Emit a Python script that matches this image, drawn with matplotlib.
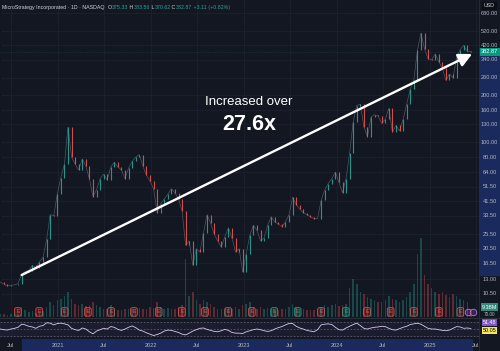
import matplotlib
matplotlib.use('Agg')
import matplotlib.pyplot as plt
import matplotlib.dates as mdates
import matplotlib.transforms as mtransforms
from matplotlib.ticker import NullLocator
import pandas as pd

plt.rcParams['font.family'] = ['Liberation Sans', 'DejaVu Sans']

BG = '#131722'
GRID = '#1f2330'
TXT = '#b2b5be'
UP = '#26a69a'
DOWN = '#ef5350'
SEL = '#1b2a5c'

# bi-weekly closes (split adjusted)
dates = pd.date_range('2020-05-20', periods=133, freq='14D')
closes = [12.5, 12.1, 11.8, 11.9, 12.0, 12.2, 14.0, 14.6, 14.8, 16.0,
          15.4, 16.9, 18.0, 23.5, 34.0, 33.5, 46, 59, 72, 125,
          80, 72, 66, 78, 70, 58, 44.5, 49, 58, 62,
          57, 69, 74, 69, 66, 58, 68, 75, 80, 83,
          70, 61, 56, 50, 35, 40, 43, 46, 50, 47,
          43, 36, 21.5, 23, 16, 20.5, 19.5, 26, 34, 30,
          25.5, 23, 21, 24.5, 28, 24, 19.5, 20.5, 14.5, 19,
          25, 29, 27, 23, 24, 29, 33, 30.5, 29.5, 28.5,
          30.5, 34, 44, 39.5, 37, 35, 34, 33, 32, 32,
          42, 49, 54, 58, 64, 55, 47, 58, 85, 135,
          172, 175, 125, 108, 145, 150, 147, 132, 140, 165,
          116, 128, 118, 140, 175, 220, 250, 390, 505, 400,
          345, 340, 370, 330, 300, 250, 275, 260, 350, 395,
          420, 385, 382.87]
volumes = [3, 3, 2.5, 3, 3, 4,
           12, 8, 6, 7, 5, 6, 7,
           12, 18, 14, 20, 22, 25, 30,
           22, 16, 14, 15, 13, 14, 18,
           14, 12, 10, 9, 14, 10, 8, 8, 9,
           10, 9, 10, 11, 9, 10, 12, 11,
           18, 12, 10, 11, 9, 10, 12, 14,
           70, 25, 30, 20, 15,
           20, 18, 15, 12, 10, 10, 9, 11, 10, 12, 10, 14,
           16, 18, 12, 10, 12, 10, 11, 10, 8, 8, 9, 10,
           12, 16, 12, 10, 9, 8, 8, 8, 10, 12, 14, 12, 14, 16, 13, 14, 15,
           35, 45, 40, 30,
           28, 24, 22, 20, 18, 18, 20, 25, 22, 20, 18, 20, 24, 30, 40,
           75, 95, 50,
           40, 35, 30, 28, 30, 26, 24, 28, 25, 22, 20, 18, 9.38]
rsi = [50, 48, 47, 50, 52, 55, 64, 62, 58, 56,
       52, 58, 60, 68, 67, 62, 66, 67, 65, 62,
       52, 48, 46, 53, 50, 42, 36, 44, 48, 52,
       50, 57, 55, 49, 46, 50, 55, 59, 54, 47,
       44, 39, 35, 31, 34, 38, 44, 47, 46, 43,
       40, 35, 33, 38, 44, 48, 52, 53, 49, 46,
       43, 42, 45, 49, 46, 40, 38, 38, 37, 42,
       45, 48, 50, 48, 45, 43, 45, 50, 54, 57,
       62, 66, 66, 58, 53, 50, 46, 44, 42, 48,
       62, 64, 65, 63, 55, 48, 47, 53, 58, 63,
       67, 60, 52, 50, 53, 55, 56, 58, 57, 52,
       48, 47, 51, 55, 58, 63, 65, 67, 64, 58,
       52, 50, 50, 48, 46, 45, 47, 52, 57, 56,
       52, 53, 51.48]
rsi_ma_last = 50.05

earn_dates = pd.to_datetime(['2020-07-28', '2020-10-20', '2021-01-28', '2021-04-29',
                             '2021-07-29', '2021-10-27', '2022-02-01', '2022-05-03',
                             '2022-08-02', '2022-11-01', '2023-02-02', '2023-05-01',
                             '2023-08-01', '2023-11-01', '2024-02-06', '2024-04-29',
                             '2024-07-31', '2024-10-30', '2025-02-05', '2025-05-01'])
earn_beat = [False] * 11 + [True, True, False, True] + [False] * 5
event_dates = pd.to_datetime(['2025-05-31', '2025-06-19'])

header_name = 'MicroStrategy Incorporated · 1D · NASDAQ'
ohlc = [('O', 375.33), ('H', 383.56), ('L', 370.62), ('C', 382.87)]
change, change_pct = 3.11, 0.82

price_ticks = [680, 520, 420, 340, 260, 200, 160, 130, 100, 80, 64,
               51.5, 41.5, 33.5, 25.5, 20.5, 16.5, 13, 10.5]
time_ticks = pd.to_datetime(['2020-07-01', '2021-01-01', '2021-07-01', '2022-01-01',
                             '2022-07-01', '2023-01-01', '2023-07-01', '2024-01-01',
                             '2024-07-01', '2025-01-01', '2025-07-01'])
time_labels = ['Jul', '2021', 'Jul', '2022', 'Jul', '2023', 'Jul', '2024', 'Jul', '2025', 'Jul']

arrow_start = (pd.Timestamp('2020-08-12'), 13.87)
arrow_end = (pd.Timestamp('2025-06-16'), 370)

opens = [closes[0]] + closes[:-1]
colors = [UP if c >= o else DOWN for o, c in zip(opens, closes)]

W, H = 500, 351


def box(x0, y0, x1, y1):
    return [x0 / W, 1 - y1 / H, (x1 - x0) / W, (y1 - y0) / H]


fig = plt.figure(figsize=(5, 3.51), dpi=100, facecolor=BG)
ax = fig.add_axes(box(0, 0, 479, 317))
axr = fig.add_axes(box(0, 318, 479, 339), sharex=ax)
axt = fig.add_axes(box(0, 339, 479, 351), sharex=ax)
pax = fig.add_axes(box(479, 0, 500, 317), sharey=ax)
rax = fig.add_axes(box(479, 318, 500, 339), sharey=axr)

for a in (ax, axr, axt, pax, rax):
    a.set_facecolor(BG)
    for s in a.spines.values():
        s.set_visible(False)
    a.tick_params(left=False, bottom=False, right=False, top=False,
                  labelleft=False, labelbottom=False)

# price pane
ax.set_yscale('log')
ax.set_ylim(7.43, 825)
ax.set_xlim(pd.Timestamp('2020-05-19'), pd.Timestamp('2025-07-13'))
ax.set_yticks(price_ticks)
ax.yaxis.set_minor_locator(NullLocator())
ax.set_xticks(time_ticks)
ax.grid(True, color=GRID, lw=0.5)
ax.set_axisbelow(True)
ax.tick_params(left=False, bottom=False, labelleft=False, labelbottom=False)

axv = ax.twinx()
axv.set_ylim(0, 380)
axv.axis('off')
axv.bar(dates, volumes, width=6, color=colors, alpha=0.35, zorder=1)

ax.plot(dates, closes, color='#9aa0ad', lw=0.5, alpha=0.45, zorder=2)
ax.vlines(dates, opens, closes, colors=colors, lw=0.8, alpha=0.9, zorder=3)
ax.axhline(closes[-1], color=UP, lw=0.4, ls=':', alpha=0.4)

ax.annotate('', xy=arrow_end, xytext=arrow_start,
            arrowprops=dict(arrowstyle='-|>,head_length=0.9,head_width=0.45',
                            color='white', lw=1.7, shrinkA=0, shrinkB=0,
                            mutation_scale=9), zorder=6)
ax.text(0.52, 0.669, 'Increased over', transform=ax.transAxes, ha='center',
        va='baseline', color='white', fontsize=9.5, zorder=7)
ax.text(0.52, 0.590, f'{closes[-1] / arrow_start[1]:.1f}x', transform=ax.transAxes,
        ha='center', va='baseline', color='white', fontsize=15.5,
        fontweight='bold', zorder=7)

# earnings / event markers
btr = mtransforms.blended_transform_factory(ax.transData, ax.transAxes)
for d, beat in zip(earn_dates, earn_beat):
    ec = UP if beat else DOWN
    fc = '#173a35' if beat else '#4a1c22'
    ax.text(mdates.date2num(d), 0.016, 'E', transform=btr, ha='center', va='center',
            fontsize=3.6, color=ec, zorder=8,
            bbox=dict(boxstyle='round,pad=0.35', fc=fc, ec=ec, lw=0.5))
ax.scatter(mdates.date2num(event_dates), [0.016] * len(event_dates), transform=btr,
           s=22, marker='o', facecolor='#3a2356', edgecolor='#a77be0', lw=0.6, zorder=8)

# header
t = ax.text(0.005, 0.985, header_name, transform=ax.transAxes, ha='left', va='top',
            fontsize=3.8, color='#d1d4dc', zorder=9)
for i, (k, v) in enumerate(ohlc):
    t = ax.annotate(('  ' if i == 0 else ' ') + k, xy=(1, 0), xycoords=t,
                    va='bottom', ha='left', fontsize=3.8, color='#d1d4dc')
    t = ax.annotate(f'{v:.2f}', xy=(1, 0), xycoords=t, va='bottom', ha='left',
                    fontsize=3.8, color=UP)
ax.annotate(f' +{change:.2f} (+{change_pct:.2f}%)', xy=(1, 0), xycoords=t,
            va='bottom', ha='left', fontsize=3.8, color=UP)

# price scale
pax.set_xlim(0, 1)
pax.axhspan(arrow_start[1], arrow_end[1], color=SEL, zorder=0)
for p in price_ticks:
    pax.text(0.5, p, f'{p:.2f}', ha='center', va='center', fontsize=4.1, color=TXT)
pax.text(0.5, 0.99, 'USD', transform=pax.transAxes, ha='center', va='top',
         fontsize=3.8, color='#d1d4dc',
         bbox=dict(boxstyle='square,pad=0.3', fc='#0c0e15', ec='none'))
pax.text(0.5, closes[-1], f'{closes[-1]:.2f}', ha='center', va='center', fontsize=4.1,
         color='white', zorder=5,
         bbox=dict(boxstyle='square,pad=0.25', fc='#089981', ec='none'))
vtr = mtransforms.blended_transform_factory(pax.transAxes, axv.transData)
pax.annotate(f'{volumes[-1]:.2f}M', xy=(0.5, volumes[-1]), xycoords=vtr,
             xytext=(0, 1.5), textcoords='offset points', ha='center', va='center',
             fontsize=4.0, color='white', zorder=5,
             bbox=dict(boxstyle='square,pad=0.2', fc='#2e8b7d', ec='none'))
pax.text(0.5, 0.0, '70.00', transform=pax.transAxes, ha='center', va='bottom',
         fontsize=3.4, color=TXT)

# RSI pane
axr.set_ylim(21, 82)
axr.set_xticks(time_ticks)
axr.set_yticks([])
axr.grid(True, axis='x', color=GRID, lw=0.5)
axr.tick_params(bottom=False, labelbottom=False)
axr.axhspan(30, 70, color='#7e57c2', alpha=0.08)
for lvl in (70, 50, 30):
    axr.axhline(lvl, color='#787b86', lw=0.4, ls=(0, (3, 3)))
axr.plot(dates, rsi, color='#d6c9f0', lw=0.6)
rax.set_xlim(0, 1)
rax.annotate(f'{rsi[-1]:.2f}', xy=(0.5, rsi[-1]), xytext=(0, 4.2),
             textcoords='offset points', ha='center', va='center', fontsize=3.9,
             color='white', bbox=dict(boxstyle='square,pad=0.15', fc='#7e57c2', ec='none'))
rax.annotate(f'{rsi_ma_last:.2f}', xy=(0.5, rsi_ma_last), xytext=(0, -1.0),
             textcoords='offset points', ha='center', va='center', fontsize=3.9,
             color='black', bbox=dict(boxstyle='square,pad=0.15', fc='#f7e463', ec='none'))

# time scale
axt.set_ylim(0, 1)
axt.axvspan(arrow_start[0], arrow_end[0], color=SEL, zorder=0)
for d, lab in zip(time_ticks, time_labels):
    axt.text(mdates.date2num(d), 0.45, lab, ha='center', va='center',
             fontsize=4.1, color=TXT)

# pane separators
fig.add_artist(plt.Line2D([0, 1], [1 - 317.5 / H] * 2, color='#2a2e39', lw=0.8))
fig.add_artist(plt.Line2D([479 / W] * 2, [0, 1], color='#2a2e39', lw=0.6))

fig.savefig('out.png', dpi=100, facecolor=BG)
